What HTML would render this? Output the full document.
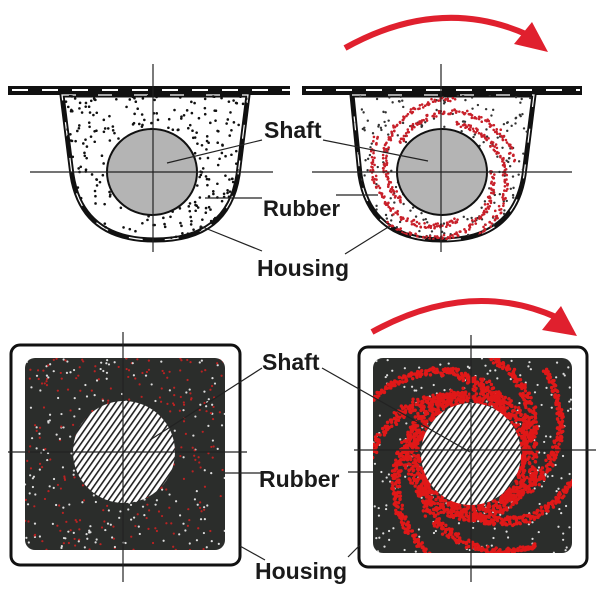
<!DOCTYPE html>
<html><head><meta charset="utf-8"><style>
html,body{margin:0;padding:0;background:#fff;width:600px;height:600px;overflow:hidden}
text{font-family:"Liberation Sans",sans-serif;font-weight:bold;fill:#1a1a1a}
</style></head><body>
<svg id="s" width="600" height="600" viewBox="0 0 600 600" xmlns="http://www.w3.org/2000/svg">
<defs>
<pattern id="h" width="5" height="5" patternUnits="userSpaceOnUse" patternTransform="rotate(35)">
<rect width="5" height="5" fill="#fff"/><rect width="1.6" height="5" fill="#222"/></pattern>
<clipPath id="cu1"><path d="M62,95 L248,95 L238,175 Q228,240 155,240 Q82,240 72,175 Z"/></clipPath>
<clipPath id="cu2"><path d="M352,95 L534,95 L524,175 Q514,240 442,240 Q370,240 360,175 Z"/></clipPath>
<clipPath id="cb1"><rect x="25" y="358" width="200" height="192" rx="10"/></clipPath>
<clipPath id="cb2"><rect x="373" y="358" width="199" height="195" rx="10"/></clipPath>
</defs>
<rect x="8" y="86" width="282" height="9" fill="#111"/>
<rect x="302" y="86" width="280" height="9" fill="#111"/>
<g stroke="#fff" stroke-width="2"><line x1="12" y1="90" x2="290" y2="90" stroke-dasharray="16,14"/><line x1="306" y1="90" x2="580" y2="90" stroke-dasharray="16,14"/></g>
<path d="M62,95 L248,95 L238,175 Q228,240 155,240 Q82,240 72,175 Z" fill="#fff" stroke="#111" stroke-width="5"/>
<path d="M352,95 L534,95 L524,175 Q514,240 442,240 Q370,240 360,175 Z" fill="#fff" stroke="#111" stroke-width="5"/>
<g fill="none" stroke="#fff" stroke-width="1.2" stroke-dasharray="14,22">
<path d="M62,95 L248,95 L238,175 Q228,240 155,240 Q82,240 72,175 Z"/>
<path d="M352,95 L534,95 L524,175 Q514,240 442,240 Q370,240 360,175 Z"/></g>
<g id="dots1" clip-path="url(#cu1)"></g>
<g id="dots2" clip-path="url(#cu2)"></g>
<ellipse cx="152" cy="172" rx="45" ry="43" fill="#b4b4b4" stroke="#111" stroke-width="2"/>
<ellipse cx="442" cy="172" rx="45" ry="43" fill="#b4b4b4" stroke="#111" stroke-width="2"/>
<rect x="11" y="345" width="229" height="220" rx="9" fill="#fff" stroke="#111" stroke-width="3"/>
<rect x="25" y="358" width="200" height="192" rx="10" fill="#2b2d2b"/>
<rect x="359" y="347" width="228" height="220" rx="9" fill="#fff" stroke="#111" stroke-width="3"/>
<rect x="373" y="358" width="199" height="195" rx="10" fill="#2b2d2b"/>
<g id="dots3" clip-path="url(#cb1)"></g>
<g id="dots4" clip-path="url(#cb2)"></g>
<ellipse cx="124" cy="452" rx="51" ry="51" fill="url(#h)"/>
<ellipse cx="471" cy="454" rx="50" ry="51" fill="url(#h)"/>
<g stroke="#222" stroke-width="1.2">
<line x1="153" y1="64" x2="153" y2="252"/><line x1="30" y1="172" x2="273" y2="172"/>
<line x1="441" y1="64" x2="441" y2="252"/><line x1="312" y1="172" x2="572" y2="172"/>
<line x1="123" y1="332" x2="123" y2="582"/><line x1="8" y1="452" x2="247" y2="452"/>
<line x1="471" y1="335" x2="471" y2="582"/><line x1="354" y1="450" x2="596" y2="450"/>
<line x1="262" y1="140" x2="167" y2="163"/><line x1="323" y1="140" x2="428" y2="161"/>
<line x1="205" y1="198" x2="262" y2="198"/><line x1="336" y1="195" x2="378" y2="195"/>
<line x1="200" y1="226" x2="262" y2="251"/><line x1="345" y1="254" x2="390" y2="226"/>
<line x1="262" y1="368" x2="150" y2="440"/><line x1="322" y1="368" x2="470" y2="452"/>
<line x1="225" y1="473" x2="262" y2="473"/><line x1="348" y1="472" x2="373" y2="472"/>
<line x1="240" y1="546" x2="265" y2="560"/><line x1="348" y1="557" x2="360" y2="545"/>
</g>
<path d="M345,48 Q440,-5 528,35" fill="none" stroke="#e0202e" stroke-width="6"/>
<path d="M548,52 L514,44 L532,22 Z" fill="#e0202e"/>
<path d="M372,332 Q470,278 558,318" fill="none" stroke="#e0202e" stroke-width="6"/>
<path d="M577,336 L542,330 L561,306 Z" fill="#e0202e"/>
<text x="264" y="138" font-size="23">Shaft</text>
<text x="263" y="216" font-size="22">Rubber</text>
<text x="257" y="276" font-size="23">Housing</text>
<text x="262" y="370" font-size="23">Shaft</text>
<text x="259" y="487" font-size="23">Rubber</text>
<text x="255" y="579" font-size="23">Housing</text>
</svg>
<script>
var N="http://www.w3.org/2000/svg";
var seed=7;function r(){seed=(seed*16807)%2147483647;return seed/2147483647;}
function dot(g,x,y,rad,c){var e=document.createElementNS(N,"circle");e.setAttribute("cx",x);e.setAttribute("cy",y);e.setAttribute("r",rad);e.setAttribute("fill",c);g.appendChild(e);}
var g1=document.getElementById("dots1"),g2=document.getElementById("dots2"),g3=document.getElementById("dots3"),g4=document.getElementById("dots4");
for(var i=0;i<450;i++){dot(g1,55+r()*200,95+r()*150,1.3,"#111");}
for(var i=0;i<350;i++){dot(g2,345+r()*200,95+r()*150,1.2,"#333");}
for(var a=0;a<5;a++){for(var k=0;k<110;k++){var t=k/110*2.4;var rr=50+t*10;var ang=a*1.25+t;dot(g2,442+rr*Math.cos(ang)+(r()-.5)*5,172+rr*Math.sin(ang)+(r()-.5)*5,1.3,"#c8202a");}}
for(var i=0;i<500;i++){dot(g3,25+r()*200,358+r()*192,1.1,r()<.5?"#ddd":"#b22");}
for(var i=0;i<300;i++){dot(g4,373+r()*199,358+r()*195,1.1,"#ddd");}
for(var a=0;a<7;a++){for(var k=0;k<220;k++){var t=k/220*1.6;var rr=52+t*38;var ang=a*0.9-t*1.1;var w=14*(1-t/2.2);dot(g4,471+rr*Math.cos(ang)+(r()-.5)*w,454+rr*Math.sin(ang)+(r()-.5)*w,1.7,"#e01818");}}
for(var k=0;k<900;k++){var ang=r()*6.283,rr=51+r()*16;dot(g4,471+rr*Math.cos(ang),454+rr*Math.sin(ang),1.7,"#e01818");}
</script>
</body></html>
